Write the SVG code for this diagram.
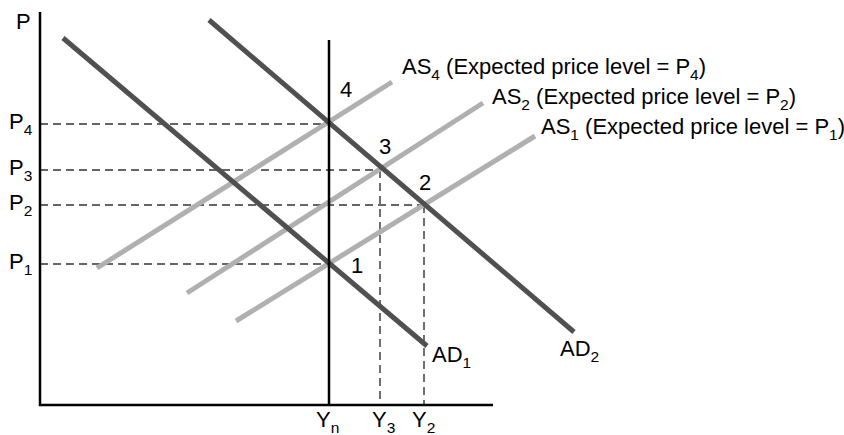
<svg xmlns="http://www.w3.org/2000/svg" width="844" height="435" viewBox="0 0 844 435">
<style>
.ax{stroke:#000;stroke-width:2.5;fill:none}
.ad{stroke:#505050;stroke-width:5;fill:none}
.as{stroke:#b0b0b0;stroke-width:5;fill:none}
.dash{stroke:#333;stroke-width:1.4;stroke-dasharray:8 5;fill:none}
text{font-family:"Liberation Sans",Arial,sans-serif;font-size:22px;fill:#000}
.s{font-size:15.5px}
</style>
<rect width="844" height="435" fill="#fff"/>
<g id="connectors">
<line class="dash" x1="40" y1="124" x2="329" y2="124"/>
<line class="dash" x1="40" y1="170" x2="380" y2="170"/>
<line class="dash" x1="40" y1="205" x2="424" y2="205"/>
<line class="dash" x1="40" y1="264" x2="329" y2="264"/>
<line class="dash" x1="380" y1="170" x2="380" y2="405"/>
<line class="dash" x1="424" y1="205" x2="424" y2="405"/>
<line class="as" x1="97" y1="268" x2="392" y2="82"/>
<line class="as" x1="187" y1="293" x2="483" y2="103"/>
<line class="as" x1="236" y1="321" x2="535" y2="136"/>
<line class="ad" x1="63" y1="38" x2="427" y2="346"/>
<line class="ad" x1="209" y1="20" x2="574" y2="332"/>
<line class="ax" x1="329" y1="40" x2="329" y2="405"/>
<path class="ax" d="M40 12 V405 H493"/>
</g>
<g id="axis-labels">
<text x="16" y="29">P</text>
<text x="9" y="129">P<tspan class="s" dy="6">4</tspan></text>
<text x="9" y="175">P<tspan class="s" dy="6">3</tspan></text>
<text x="9" y="210">P<tspan class="s" dy="6">2</tspan></text>
<text x="9" y="269">P<tspan class="s" dy="6">1</tspan></text>
<text x="316" y="427">Y<tspan class="s" dy="6">n</tspan></text>
<text x="372" y="427">Y<tspan class="s" dy="6">3</tspan></text>
<text x="412" y="427">Y<tspan class="s" dy="6">2</tspan></text>
</g>
<g id="points">
<text x="340" y="97">4</text>
<text x="379" y="154">3</text>
<text x="419" y="190">2</text>
<text x="351" y="273">1</text>
</g>
<g id="curve-labels">
<text x="402" y="74">AS<tspan class="s" dy="6">4</tspan><tspan dy="-6"> (Expected price level = P</tspan><tspan class="s" dy="6">4</tspan><tspan dy="-6">)</tspan></text>
<text x="492" y="104">AS<tspan class="s" dy="6">2</tspan><tspan dy="-6"> (Expected price level = P</tspan><tspan class="s" dy="6">2</tspan><tspan dy="-6">)</tspan></text>
<text x="541" y="134">AS<tspan class="s" dy="6">1</tspan><tspan dy="-6"> (Expected price level = P</tspan><tspan class="s" dy="6">1</tspan><tspan dy="-6">)</tspan></text>
<text x="432" y="362">AD<tspan class="s" dy="6">1</tspan></text>
<text x="560" y="356">AD<tspan class="s" dy="6">2</tspan></text>
</g>
</svg>
